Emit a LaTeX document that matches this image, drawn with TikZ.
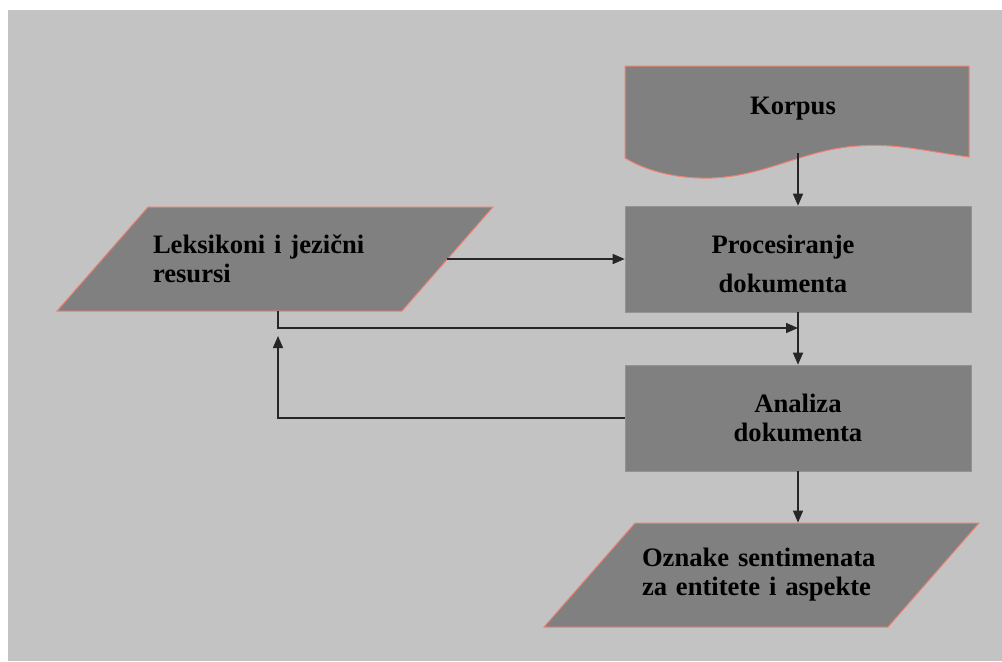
\documentclass[tikz,border=0pt]{standalone}
\usepackage{fontspec}
\setmainfont{Liberation Serif}
\usetikzlibrary{arrows.meta}
\definecolor{bggray}{RGB}{195,195,195}
\definecolor{boxgray}{RGB}{128,128,128}
\definecolor{edgered}{RGB}{240,128,112}
\definecolor{linedark}{RGB}{38,38,38}
\tikzset{
  boxfont/.style={font=\fontsize{13.3}{14.5}\selectfont\bfseries, text=black},
  procbox/.style={rectangle, fill=boxgray, draw=boxgray!85!white, line width=0.3pt,
    minimum width=173pt, minimum height=53pt, inner sep=0pt, align=center, boxfont},
  datashape/.style={fill=boxgray, draw=edgered, line width=0.5pt},
  databox/.style={rectangle, minimum width=172pt, minimum height=52pt, inner sep=0pt,
    align=left, boxfont},
  flowline/.style={draw=linedark, line width=0.75pt},
  flow/.style={flowline, -{Triangle[length=6pt,width=5pt]}}
}
\begin{document}
\begin{tikzpicture}[x=0.5pt,y=-0.5pt]
          % page and grey background
          \useasboundingbox (0,0) rectangle (1002,661);
          \fill[bggray] (8,10) rectangle (1002,661);
          % Korpus (document shape)
          \filldraw[fill=boxgray, draw=edgered, line width=0.5pt] (625,66) -- (969,66) -- (969,157)
            .. controls (925,151) and (895,143) .. (857,146)
            .. controls (800,150) and (760,180) .. (700,178)
            .. controls (670,177) and (645,170) .. (625,158) -- cycle;
          \node[boxfont] (korp) at (793,109) {Korpus};
          \coordinate (kout) at (798,153);
          % process boxes
          \node[procbox, label={[boxfont, align=center, xshift=-7.5pt, yshift=-2.5pt]center:Procesiranje\\[5pt]dokumenta}] (proc) at (798,259) {};
          \node[procbox] (ana) at (798,418) {Analiza\\dokumenta};
          % input / output (parallelograms)
          \filldraw[datashape] (148,207) -- (493,207) -- (402,311) -- (57,311) -- cycle;
          \node[databox, text width=122pt] (lex) at (275,259) {Leksikoni i jezični\\resursi};
          \filldraw[datashape] (635,523) -- (979,523) -- (888,627) -- (544,627) -- cycle;
          \node[databox, text width=119.5pt] (ozn) at (761.5,575) {Oznake sentimenata\\za entitete i aspekte};
          % connectors
          \coordinate (split) at (278,328);
          \draw[flow] (kout) -- (proc.north);
          \draw[flow] (lex.east) -- (lex.east -| proc.west);
          \draw[flow] (lex.south -| split) -- (split) -- (split -| proc.south);
          \draw[flow] (proc.south) -- (ana.north);
          \draw[flow] (ana.west) -- (ana.west -| split) -- ([yshift=-4pt]split);
          \draw[flow] (ana.south) -- (ana.south |- ozn.north);
\end{tikzpicture}
\end{document}
